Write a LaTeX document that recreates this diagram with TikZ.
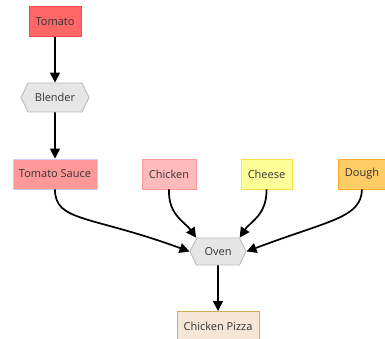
\documentclass[tikz,border=0pt]{standalone}
\usepackage{fontspec}
\setmainfont{Open Sans}
\usetikzlibrary{arrows.meta,shapes.symbols}
\definecolor{txt}{HTML}{333333}
\definecolor{tomatoFill}{HTML}{FF6666}\definecolor{tomatoLine}{HTML}{FF4444}
\definecolor{sauceFill}{HTML}{FF9999}\definecolor{sauceLine}{HTML}{CCCCFF}
\definecolor{chickenFill}{HTML}{FFBBBB}\definecolor{chickenLine}{HTML}{FF9999}
\definecolor{cheeseFill}{HTML}{FFFF99}\definecolor{cheeseLine}{HTML}{FFDD44}
\definecolor{doughFill}{HTML}{FFCC66}\definecolor{doughLine}{HTML}{FFAA33}
\definecolor{pizzaFill}{HTML}{F5E6D6}\definecolor{pizzaLine}{HTML}{D4AA55}
\definecolor{procFill}{HTML}{E6E6E6}\definecolor{procLine}{HTML}{BBBBBB}
\tikzset{
  x=1pt, y=-1pt,
  every node/.style={font=\fontsize{11}{13}\selectfont, text=txt, inner sep=0pt},
  item/.style={draw, line width=0.9pt, minimum height=30pt},
  proc/.style={shape=signal, signal to=west and east, signal pointer angle=128,
    draw=procLine, fill=procFill, line width=0.9pt},
  flow/.style={line width=1.7pt, -{Triangle[length=10pt,width=10pt]}},
}
\begin{document}
\begin{tikzpicture}
\useasboundingbox (0,0) rectangle (385,339);
% ingredients and products
\node[item, draw=tomatoLine, fill=tomatoFill, minimum width=52pt] (tomato) at (55,21.5) {Tomato};
\node[proc, minimum width=68pt, minimum height=29pt] (blender) at (55,97.5) {Blender};
\node[item, draw=sauceLine, fill=sauceFill, minimum width=84pt] (sauce) at (55,174) {Tomato Sauce};
\node[item, draw=chickenLine, fill=chickenFill, minimum width=54pt] (chicken) at (169,174) {Chicken};
\node[item, draw=cheeseLine, fill=cheeseFill, minimum width=51pt] (cheese) at (266.5,174) {Cheese};
\node[item, draw=doughLine, fill=doughFill, minimum width=48pt] (dough) at (362,174) {Dough};
\node[proc, minimum width=56pt, minimum height=27pt] (oven) at (218,251.5) {Oven};
\node[item, draw=pizzaLine, fill=pizzaFill, minimum width=82pt] (pizza) at (218,326.5) {Chicken Pizza};
% connections
\draw[flow] (tomato) -- (blender);
\draw[flow] (blender) -- (sauce);
\draw[flow] (sauce.south) .. controls (55,222) and (90,215) .. (oven.west);
\draw[flow] (chicken.south) .. controls (168,215) and (185,222) .. (oven.north west);
\draw[flow] (cheese.south) .. controls (267,215) and (250,222) .. (oven.north east);
\draw[flow] (dough.south) .. controls (361,218) and (330,220) .. (oven.east);
\draw[flow] (oven) -- (pizza);
\end{tikzpicture}
\end{document}
